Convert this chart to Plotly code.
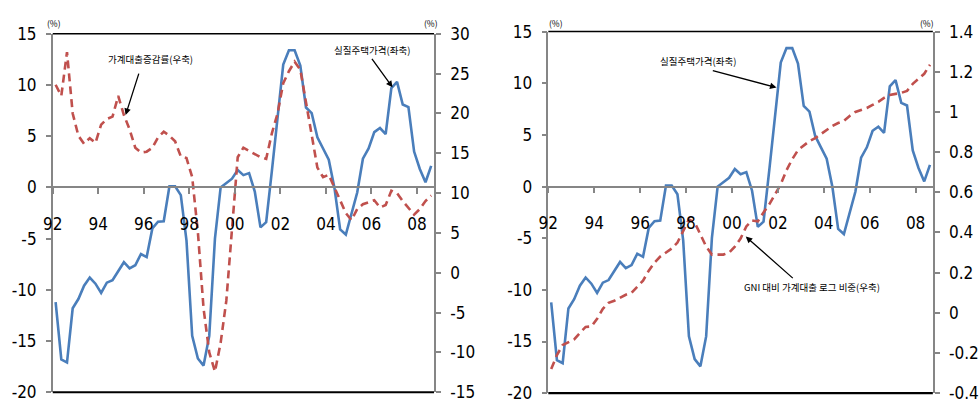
import plotly.graph_objects as go

# ---------------- data (quarterly, 1992Q1 - 2008Q3) ----------------
house_price = [-11.2, -16.8, -17.1, -11.8, -10.9, -9.6, -8.8, -9.4, -10.3, -9.3,
               -9.05, -8.2, -7.3, -7.9, -7.6, -6.5, -6.8, -4.0, -3.35, -3.3,
               0.1, 0.1, -0.75, -5.2, -14.5, -16.7, -17.4, -14.5, -5.0, 0.0,
               0.45, 0.85, 1.7, 1.2, 1.4, -0.4, -3.9, -3.4, 1.6, 6.9,
               12.0, 13.4, 13.4, 11.9, 7.8, 7.25, 4.9, 3.8, 2.7, -0.05,
               -4.1, -4.6, -2.5, -0.5, 2.8, 3.8, 5.4, 5.8, 5.2, 9.7,
               10.3, 8.1, 7.85, 3.5, 1.8, 0.5, 2.1]

loan_growth = [23.6, 22.2, 27.7, 20.0, 17.2, 16.2, 16.9, 16.3, 18.6, 19.3,
               19.6, 22.2, 19.8, 18.0, 15.7, 15.1, 15.2, 15.7, 17.0, 17.7,
               17.2, 16.5, 14.6, 14.4, 12.0, 5.1, -4.5, -10.0, -12.4, -8.8,
               -3.5, 5.0, 14.5, 15.7, 15.3, 14.8, 14.5, 14.3, 17.5, 20.0,
               23.8, 25.3, 26.5, 25.5, 21.4, 17.0, 13.2, 12.0, 12.3, 10.7,
               9.0, 7.5, 6.6, 8.0, 8.6, 8.9, 9.1, 8.2, 8.5, 10.3,
               10.0, 9.0, 8.2, 7.3, 8.0, 9.0, 9.7]

loan_gni_log = [-0.28, -0.21, -0.16, -0.148, -0.132, -0.10, -0.07, -0.068, -0.03, 0.02,
                0.05, 0.06, 0.075, 0.09, 0.10, 0.13, 0.16, 0.21, 0.25, 0.28,
                0.30, 0.32, 0.35, 0.41, 0.465, 0.45, 0.39, 0.33, 0.29, 0.29,
                0.29, 0.30, 0.33, 0.37, 0.43, 0.46, 0.455, 0.50, 0.54, 0.59,
                0.64, 0.71, 0.765, 0.81, 0.835, 0.855, 0.87, 0.89, 0.91, 0.93,
                0.945, 0.955, 0.98, 1.0, 1.01, 1.02, 1.035, 1.05, 1.07, 1.085,
                1.09, 1.095, 1.105, 1.14, 1.165, 1.19, 1.235]

x_idx = list(range(len(house_price)))

year_labels = ["92", "94", "96", "98", "00", "02", "04", "06", "08"]
year_tick_pos = [-0.5 + 8 * k for k in range(len(year_labels))]

left_ticks = [-20, -15, -10, -5, 0, 5, 10, 15]
left_ticktext = ["-20", "-15", "-10", "-5", "0", "5", "10", "15"]
r1_ticks = [-15, -10, -5, 0, 5, 10, 15, 20, 25, 30]
r1_ticktext = ["-15", "-10", "-5", "0", "5", "10", "15", "20", "25", "30"]
r2_ticks = [-0.4, -0.2, 0, 0.2, 0.4, 0.6, 0.8, 1.0, 1.2, 1.4]
r2_ticktext = ["-0.4", "-0.2", "0", "0.2", "0.4", "0.6", "0.8", "1", "1.2", "1.4"]

# ---------------- styling ----------------
W, H = 979, 413
BLUE = "#4A7EBB"
RED = "#C0504D"
GREY = "#868686"
TICKFONT = dict(family="Liberation Sans Narrow, DejaVu Sans Condensed, Arial Narrow, sans-serif",
                size=17, color="black")
ANNFONT = dict(family="Noto Sans CJK KR, sans-serif", size=9.5, color="black")

# domains in paper units (from pixel layout)
L_X = [43.3 / W, 429.3 / W]
L_Y = [1 - 401.7 / H, 1 - 25.0 / H]
R_X = [545.0 / W, 934.3 / W]
R_Y = [1 - 402.7 / H, 1 - 22.7 / H]

LRANGE = [-20, 15]


def zero_pos(dom):
    f = (0 - LRANGE[0]) / (LRANGE[1] - LRANGE[0])
    return dom[0] + f * (dom[1] - dom[0])


fig = go.Figure()

line_blue = dict(color=BLUE, width=2.6)
line_red = dict(color=RED, width=2.6, dash="8px,5px")

fig.add_trace(go.Scatter(x=x_idx, y=house_price, mode="lines", line=line_blue,
                         xaxis="x", yaxis="y", name="실질주택가격(좌축)"))
fig.add_trace(go.Scatter(x=x_idx, y=loan_growth, mode="lines", line=line_red,
                         xaxis="x", yaxis="y2", name="가계대출증감률(우축)"))
fig.add_trace(go.Scatter(x=x_idx, y=house_price, mode="lines", line=line_blue,
                         xaxis="x2", yaxis="y3", name="실질주택가격(좌축)"))
fig.add_trace(go.Scatter(x=x_idx, y=loan_gni_log, mode="lines", line=line_red,
                         xaxis="x2", yaxis="y4", name="GNI 대비 가계대출 로그 비중(우축)"))

xr = [-0.5, len(x_idx) - 0.5]


def xaxis_cfg(dom, ydom):
    return dict(domain=dom, range=xr, anchor="free", position=zero_pos(ydom),
                showline=True, linecolor=GREY, linewidth=1.5,
                ticks="outside", ticklen=6, tickwidth=1.5, tickcolor=GREY,
                tickvals=year_tick_pos, ticktext=year_labels, tickfont=TICKFONT,
                ticklabelstandoff=15, showgrid=False, zeroline=False, fixedrange=True)


def yleft_cfg(dom, anchor):
    return dict(domain=dom, range=LRANGE, anchor=anchor, side="left",
                showline=True, linecolor=GREY, linewidth=1.5,
                ticks="outside", ticklen=5, tickwidth=1.5, tickcolor=GREY,
                tickvals=left_ticks, ticktext=left_ticktext, tickfont=TICKFONT,
                ticklabelstandoff=6, showgrid=False, zeroline=False)


fig.update_layout(
    width=W, height=H,
    margin=dict(l=0, r=0, t=0, b=0),
    paper_bgcolor="white", plot_bgcolor="white",
    showlegend=False,
    xaxis=xaxis_cfg(L_X, L_Y),
    xaxis2=xaxis_cfg(R_X, R_Y),
    yaxis=yleft_cfg(L_Y, "x"),
    yaxis3=yleft_cfg(R_Y, "x2"),
    yaxis2=dict(domain=L_Y, range=[-15, 30], overlaying="y", side="right", anchor="x",
                showline=True, linecolor=GREY, linewidth=1.5,
                ticks="outside", ticklen=5, tickwidth=1.5, tickcolor=GREY,
                tickvals=r1_ticks, ticktext=r1_ticktext, tickfont=TICKFONT,
                ticklabelstandoff=6, showgrid=False, zeroline=False),
    yaxis4=dict(domain=R_Y, range=[-0.4, 1.4], overlaying="y3", side="right", anchor="x2",
                showline=True, linecolor=GREY, linewidth=1.5,
                ticks="outside", ticklen=5, tickwidth=1.5, tickcolor=GREY,
                tickvals=r2_ticks, ticktext=r2_ticktext, tickfont=TICKFONT,
                ticklabelstandoff=6, showgrid=False, zeroline=False),
)

# top and bottom black frame lines
for xa, ya in (("x", "y"), ("x2", "y3")):
    fig.add_shape(type="line", xref=f"{xa} domain", yref=f"{ya} domain",
                  x0=0, x1=1, y0=1, y1=1, line=dict(color="black", width=1.5))
    fig.add_shape(type="line", xref=f"{xa} domain", yref=f"{ya} domain",
                  x0=0, x1=1, y0=0, y1=0, line=dict(color="black", width=2.2))

# unit labels
small = dict(family="Noto Sans CJK KR, sans-serif", size=8.5, color="black")
for px in (45, 426, 552.5, 928.8):
    fig.add_annotation(x=px / W, y=1 - 14 / H, xref="paper", yref="paper",
                       text="(%)", showarrow=False, font=small,
                       xanchor="center", yanchor="middle")

# callouts: (text, xref, yref, text x, text y, arrow tail x, tail y, head x, head y)
callouts = [
    ("가계대출증감률(우축)", "x", "y", 16.6, 12.5, 14.7, 11.26, 12.3, 7.07),
    ("실질주택가격(좌축)", "x", "y", 55.6, 13.4, 55.4, 12.7, 59.2, 9.77),
    ("실질주택가격(좌축)", "x2", "y3", 25.6, 12.2, 27.9, 11.27, 39.26, 9.58),
    ("GNI 대비 가계대출 로그 비중(우축)", "x2", "y3", 45.5, -9.76, 42.36, -8.99, 33.9, -4.84),
]
for txt, xa, ya, tx, ty, ax, ay, hx, hy in callouts:
    fig.add_annotation(x=tx, y=ty, xref=xa, yref=ya, text=txt, showarrow=False,
                       font=ANNFONT, xanchor="center", yanchor="middle")
    fig.add_annotation(x=hx, y=hy, xref=xa, yref=ya, ax=ax, ay=ay, axref=xa, ayref=ya,
                       text="", showarrow=True, arrowhead=2, arrowsize=1,
                       arrowwidth=1.3, arrowcolor="black", standoff=0)

fig.write_html("out.html")
